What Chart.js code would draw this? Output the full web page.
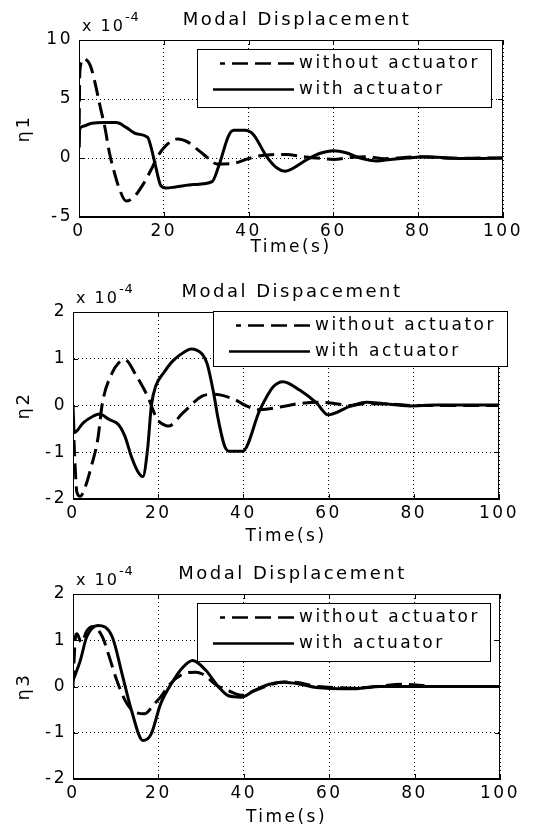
<!DOCTYPE html>
<html>
<head>
<meta charset="utf-8">
<script src="https://cdn.jsdelivr.net/npm/chart.js@4.4.1/dist/chart.umd.min.js"></script>
<style>
html, body { margin: 0; padding: 0; background: #fff; }
#wrap { position: relative; width: 539px; height: 829px; overflow: hidden; }
canvas { position: absolute; left: 0; }
</style>
</head>
<body>
<div id="wrap">
  <canvas id="c1" width="539" height="276" style="top:0px"></canvas>
  <canvas id="c2" width="539" height="278" style="top:276px"></canvas>
  <canvas id="c3" width="539" height="275" style="top:554px"></canvas>
</div>
<script>
const SERIES = ['without actuator', 'with actuator'];
const TITLES = ['Modal Displacement', 'Modal Dispacement', 'Modal Displacement'];
const Y_NAMES = ['η1', 'η2', 'η3'];
const X_TICKS = [0, 20, 40, 60, 80, 100];
const Y_TICKS_1 = [-5, 0, 5, 10];
const Y_TICKS_2 = [-2, -1, 0, 1, 2];
const Y_TICKS_3 = [-2, -1, 0, 1, 2];
const SCALE_EXP = '-4';

// values are in units of 1e-4
const t1Without = [0, 0.2, 1, 2.6, 3.7, 4.9, 6.1, 7.2, 8.4, 9.6, 11.1, 13.1, 15, 17, 18.5, 20.5, 23.2, 25.9, 28.2, 30.6, 32.5, 36.4, 39.6, 42.7, 49, 52.2, 56.9, 60, 64, 68, 72, 80, 85, 90, 95, 100];
const eta1Without = [0.9, 7.3, 8.4, 7.9, 6.5, 4.5, 2.6, 0.4, -1.3, -2.7, -3.65, -3.25, -2.3, -1, 0.1, 1.05, 1.6, 1.3, 0.65, -0.05, -0.5, -0.45, -0.1, 0.2, 0.3, 0.15, -0.03, -0.12, 0.05, 0.1, -0.06, 0.1, 0.02, -0.03, 0, 0];
const t1With = [0, 0.2, 1, 3, 6, 8.8, 11.1, 13.5, 16.2, 17, 18.1, 19.3, 20.5, 22.8, 27, 31.4, 32.9, 35.3, 36.5, 39.1, 41.1, 44.3, 46.7, 48.6, 50.6, 53.7, 56.9, 60, 63.2, 66.3, 70.3, 73.4, 77.3, 82, 87.6, 91.5, 100];
const eta1With = [0.9, 2.5, 2.7, 2.95, 3, 3, 2.6, 2.05, 1.75, 0.9, -0.75, -2.35, -2.55, -2.45, -2.25, -2, -0.75, 1.9, 2.35, 2.35, 2, 0.1, -0.85, -1.12, -0.85, -0.15, 0.4, 0.62, 0.42, 0, -0.25, -0.12, 0, 0.1, 0, -0.05, 0];

const t2Without = [0, 0.5, 0.9, 1.7, 2.8, 4.3, 5.8, 6.9, 9.2, 10.7, 12.2, 14.9, 17.5, 19.8, 21.3, 22.4, 25.8, 30.3, 33, 37.9, 40.5, 43.9, 49.3, 53, 57.2, 61, 65, 68.9, 75, 80, 90, 100];
const eta2Without = [-0.25, -1.3, -1.85, -1.94, -1.76, -1.3, -0.73, 0.05, 0.7, 0.91, 0.98, 0.63, 0.2, -0.3, -0.41, -0.44, -0.16, 0.2, 0.24, 0.13, 0, -0.09, -0.02, 0.04, 0.07, 0.05, 0, 0.04, 0.03, 0, 0, 0];
const t2With = [0, 0.3, 2.4, 4.7, 6.2, 8.5, 10.7, 12.2, 13.7, 15.2, 16.4, 17.5, 18.4, 19.4, 21.3, 23.5, 26.6, 27.7, 30.3, 31.5, 33, 34.1, 35.6, 36.8, 39.8, 43.9, 47, 49.3, 53.2, 57.2, 59.9, 65, 68.9, 72.8, 79, 85, 100];
const eta2With = [0, -0.58, -0.37, -0.23, -0.18, -0.3, -0.41, -0.66, -1.09, -1.41, -1.52, -0.94, 0, 0.41, 0.7, 0.96, 1.17, 1.21, 1.1, 0.89, 0.27, -0.3, -0.87, -0.98, -0.98, -0.09, 0.4, 0.51, 0.33, 0.05, -0.2, -0.02, 0.07, 0.04, -0.01, 0.01, 0.01];

const t3Without = [0, 0.5, 0.9, 2, 3.2, 4.7, 6.9, 8.5, 10, 12.2, 13.7, 16.8, 19, 20.5, 22.8, 25.8, 28.8, 30.3, 34.1, 36.4, 39.4, 41.7, 45, 49.3, 53, 57, 61, 65, 71, 77, 85, 100];
const eta3Without = [0, 1, 1.14, 0.95, 1.2, 1.3, 1.07, 0.64, 0.2, -0.3, -0.5, -0.59, -0.38, -0.23, 0.06, 0.27, 0.31, 0.27, 0, -0.09, -0.19, -0.12, 0, 0.1, 0.08, 0, -0.02, -0.04, 0, 0.05, 0, 0];
const t3With = [0, 1.7, 3.2, 5.8, 9.2, 11.5, 13.7, 16.4, 18.3, 20.5, 23.5, 25.8, 28, 31.1, 34.1, 36.4, 39.4, 42.4, 46, 49.3, 53.2, 57, 65, 72, 80, 100];
const eta3With = [0.13, 0.56, 1.07, 1.32, 1.07, 0.27, -0.52, -1.17, -1.03, -0.38, 0.13, 0.42, 0.56, 0.35, -0.01, -0.2, -0.23, -0.09, 0.05, 0.09, 0.05, -0.02, -0.05, 0, 0, 0];

const FONT = '"DejaVu Sans", sans-serif';
const SPACING = '2.5px';
const $ = (id) => document.getElementById(id);
const pts = (t, v) => t.map((x, i) => ({ x, y: v[i] }));

// layout of each panel in canvas pixels: plot area [left, top, right, bottom], legend box [left, top, w, h]
const PANELS = [
    { id: 'c1', h: 276, area: [79, 40, 503, 217], xTitleY: 248, legend: [197, 49, 294, 58], series: [t1Without, eta1Without, t1With, eta1With], yTicks: Y_TICKS_1 },
    { id: 'c2', h: 278, area: [73, 36, 499, 223], xTitleY: 261, legend: [213, 35, 294, 55], series: [t2Without, eta2Without, t2With, eta2With], yTicks: Y_TICKS_2 },
    { id: 'c3', h: 275, area: [73, 40, 500, 225], xTitleY: 264, legend: [197, 49, 293, 58], series: [t3Without, eta3Without, t3With, eta3With], yTicks: Y_TICKS_3 }
];

const frame = {
    id: 'frame',
    beforeDraw(c) { c.ctx.letterSpacing = SPACING; },
    afterDraw(c, args, o) {
        const { ctx, chartArea: a, scales: { x, y } } = c;
        ctx.save();
        ctx.letterSpacing = SPACING;
        ctx.strokeStyle = '#000'; ctx.fillStyle = '#000'; ctx.lineWidth = 1; ctx.setLineDash([]);

        // inward tick marks on all four sides
        ctx.beginPath();
        X_TICKS.forEach(v => {
            const px = Math.round(x.getPixelForValue(v)) + 0.5;
            ctx.moveTo(px, a.bottom); ctx.lineTo(px, a.bottom - 5);
            ctx.moveTo(px, a.top); ctx.lineTo(px, a.top + 5);
        });
        o.yTicks.forEach(v => {
            const py = Math.round(y.getPixelForValue(v)) + 0.5;
            ctx.moveTo(a.left, py); ctx.lineTo(a.left + 5, py);
            ctx.moveTo(a.right, py); ctx.lineTo(a.right - 5, py);
        });
        ctx.stroke();
        ctx.strokeRect(Math.round(a.left) + 0.5, Math.round(a.top) + 0.5, Math.round(a.width) - 1, Math.round(a.height) - 1);

        // title and exponent
        ctx.font = '18px ' + FONT; ctx.textAlign = 'center'; ctx.textBaseline = 'middle';
        ctx.fillText(o.title, (a.left + a.right) / 2 + 6, a.top - 20);
        ctx.textAlign = 'left'; ctx.textBaseline = 'alphabetic';
        ctx.font = '16px ' + FONT; ctx.letterSpacing = '2px';
        ctx.fillText('x 10', a.left + 3, a.top - 9);
        const w = ctx.measureText('x 10').width;
        ctx.font = '13px ' + FONT; ctx.letterSpacing = '1px';
        ctx.fillText(SCALE_EXP, a.left + 3 + w, a.top - 19);

        // legend box
        const [lx, ly, lw, lh] = o.legend;
        ctx.fillStyle = '#fff';
        ctx.fillRect(lx, ly, lw, lh);
        ctx.strokeRect(lx + 0.5, ly + 0.5, lw, lh);
        ctx.fillStyle = '#000';
        ctx.font = '17px ' + FONT; ctx.letterSpacing = SPACING; ctx.textBaseline = 'middle';
        c.data.datasets.forEach((ds, i) => {
            const ry = ly + 14.5 + i * 26;
            ctx.save();
            ctx.lineWidth = 2.5;
            ctx.setLineDash(ds.borderDash || []);
            ctx.beginPath();
            ctx.moveTo(lx + 97, ry); ctx.lineTo(lx + (ds.borderDash ? 23 : 16), ry);
            ctx.stroke();
            ctx.restore();
            ctx.fillText(ds.label, lx + 102, ry);
        });
        ctx.restore();
    }
};

function makeChart(p, idx) {
    const [tA, vA, tB, vB] = p.series;
    const [left, top, right, bottom] = p.area;
    const tickFont = { family: FONT, size: 17 };
    return new Chart($(p.id), {
        type: 'line',
        data: {
            datasets: [
                { label: SERIES[0], data: pts(tA, vA), borderColor: '#000', borderWidth: 3, borderDash: [16, 7], pointRadius: 0, cubicInterpolationMode: 'monotone', fill: false },
                { label: SERIES[1], data: pts(tB, vB), borderColor: '#000', borderWidth: 3, pointRadius: 0, cubicInterpolationMode: 'monotone', fill: false }
            ]
        },
        options: {
            responsive: false,
            animation: false,
            devicePixelRatio: 1,
            layout: { padding: { left: 0, top: top, right: 539 - right, bottom: 0 } },
            plugins: {
                legend: { display: false },
                tooltip: { enabled: false },
                frame: { title: TITLES[idx], legend: p.legend, yTicks: p.yTicks }
            },
            scales: {
                x: {
                    type: 'linear', min: 0, max: 100,
                    afterBuildTicks: s => { s.ticks = X_TICKS.map(v => ({ value: v })); },
                    afterFit: s => { s.height = p.h - bottom; },
                    ticks: { color: '#000', font: tickFont, padding: 4, maxRotation: 0, autoSkip: false },
                    grid: { color: '#000', lineWidth: 1, drawTicks: false },
                    border: { display: true, color: '#000', dash: [1, 3] },
                    title: { display: true, text: 'Time(s)', color: '#000', font: tickFont, padding: { top: 0, bottom: p.h - p.xTitleY - 10.2 } }
                },
                y: {
                    type: 'linear', min: p.yTicks[0], max: p.yTicks[p.yTicks.length - 1],
                    afterBuildTicks: s => { s.ticks = p.yTicks.map(v => ({ value: v })); },
                    afterFit: s => { s.width = left; },
                    ticks: { color: '#000', font: tickFont, padding: 6 },
                    grid: { color: '#000', lineWidth: 1, drawTicks: false },
                    border: { display: true, color: '#000', dash: [1, 3] },
                    title: { display: true, text: Y_NAMES[idx], color: '#000', font: { family: FONT, size: 18 }, padding: { top: 14, bottom: 0 } }
                }
            }
        },
        plugins: [frame]
    });
}

PANELS.forEach(makeChart);
</script>
</body>
</html>
